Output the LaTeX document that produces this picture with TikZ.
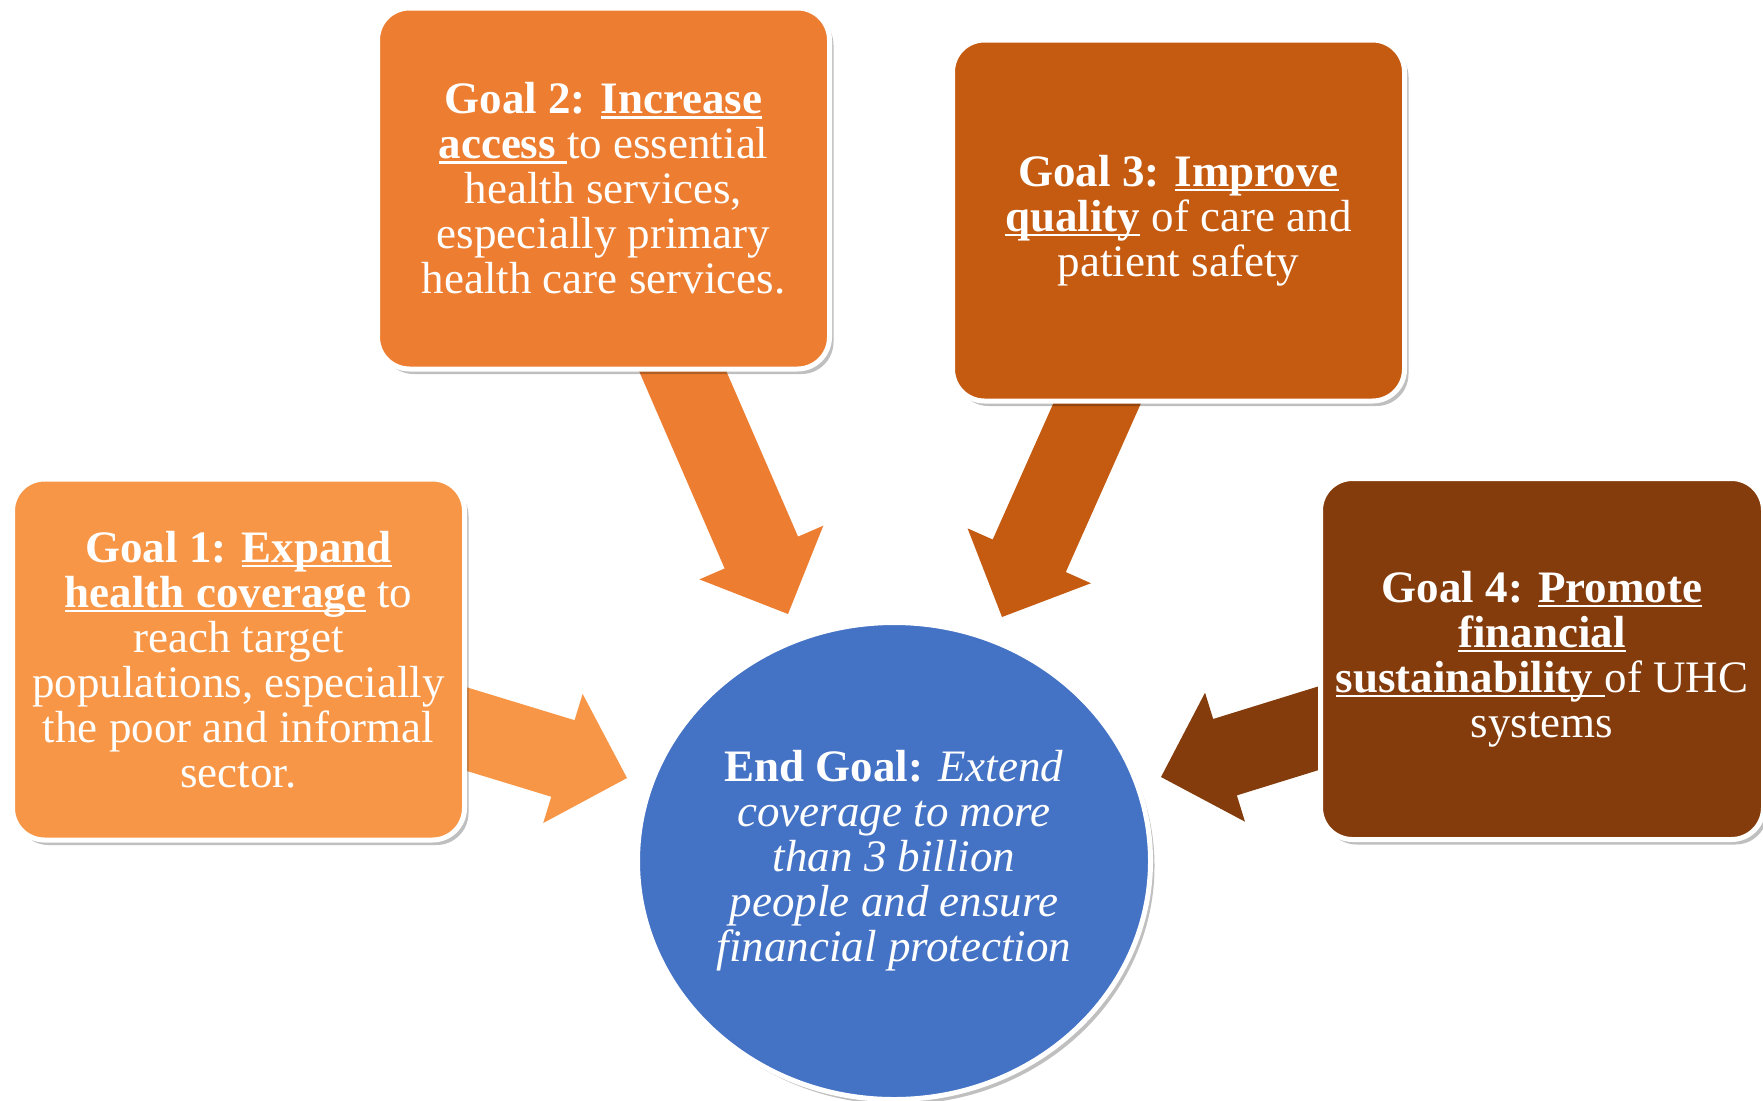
\documentclass[tikz,border=0pt]{standalone}
\usepackage{fontspec}
\setmainfont{Liberation Serif}
\usetikzlibrary{calc,shadows,backgrounds,shapes.geometric}
\definecolor{cone}{HTML}{F79646}
\definecolor{ctwo}{HTML}{ED7D31}
\definecolor{cthree}{HTML}{C55A11}
\definecolor{cfour}{HTML}{843C0C}
\definecolor{cend}{HTML}{4472C4}
\newsavebox\ulbox
\newcommand\uln[1]{\sbox\ulbox{#1}\rlap{\rule[-5pt]{\wd\ulbox}{2.5pt}}\usebox\ulbox}
\newcommand\fatarrow[3]{%
  \coordinate (hb) at ($(#2)!67pt!(#1)$);
  \fill[#3] ($(#1)!40pt!90:(#2)$) -- ($(hb)!40pt!90:(#2)$) -- ($(hb)!67.5pt!90:(#2)$) -- (#2)
    -- ($(hb)!67.5pt!-90:(#2)$) -- ($(hb)!40pt!-90:(#2)$) -- ($(#1)!40pt!-90:(#2)$) -- cycle;}
\begin{document}
\begin{tikzpicture}[x=1pt,y=-1pt,
  softshadow/.style={drop shadow={shadow xshift=4pt, shadow yshift=-5pt, opacity=0.25, fill=black}},
  goalbox/.style={rectangle, rounded corners=32pt, draw=white, line width=5pt,
    minimum width=452pt, minimum height=361pt, inner sep=0pt, align=center, text=white,
    font=\fontsize{45}{45}\selectfont, softshadow},
  endgoal/.style={ellipse, draw=white, line width=5pt, minimum width=513pt, minimum height=477pt,
    inner sep=0pt, fill=cend, softshadow},
  endtext/.style={align=center, text=white, font=\fontsize{45}{45}\selectfont, inner sep=0pt}]
\useasboundingbox (0,0) rectangle (1763,1100);

\node[goalbox, fill=cone] (g1) at (238.5,659.5)
  {\textbf{Goal 1: \uln{Expand}}\\ \textbf{\uln{health coverage}} to\\ reach target\\ populations, especially\\ the poor and informal\\ sector.};
\node[goalbox, fill=ctwo] (g2) at (603.5,188.5)
  {\textbf{Goal 2: \uln{Increase}}\\ \textbf{\uln{access\ }}to essential\\ health services,\\ especially primary\\ health care services.};
\node[goalbox, fill=cthree] (g3) at (1178.5,220.5)
  {\textbf{Goal 3: \uln{Improve}}\\ \textbf{\uln{quality}} of care and\\ patient safety};
\node[goalbox, fill=cfour, minimum width=443pt] (g4) at (1542,659)
  {\textbf{Goal 4: \uln{Promote}}\\ \textbf{\uln{financial}}\\ \textbf{\uln{sustainability\ }}of UHC\\ systems};
\node[endgoal] (end) at (894,861) {};
\node[endtext] (endlbl) at (end.center)
  {\textbf{End Goal:} \textit{Extend}\\ \textit{coverage to more}\\ \textit{than 3 billion}\\ \textit{people and ensure}\\ \textit{financial protection}};

\coordinate (t1) at (627,778);
\coordinate (t2) at (788,614);
\coordinate (t3) at (1002,617);
\coordinate (t4) at (1161,777);

\begin{scope}[on background layer]
  \fill[white] (0,0) rectangle (1763,1100);
  \fatarrow{g1.center}{t1}{cone}
  \fatarrow{g2.center}{t2}{ctwo}
  \fatarrow{g3.center}{t3}{cthree}
  \fatarrow{g4.center}{t4}{cfour}
\end{scope}
\end{tikzpicture}
\end{document}
